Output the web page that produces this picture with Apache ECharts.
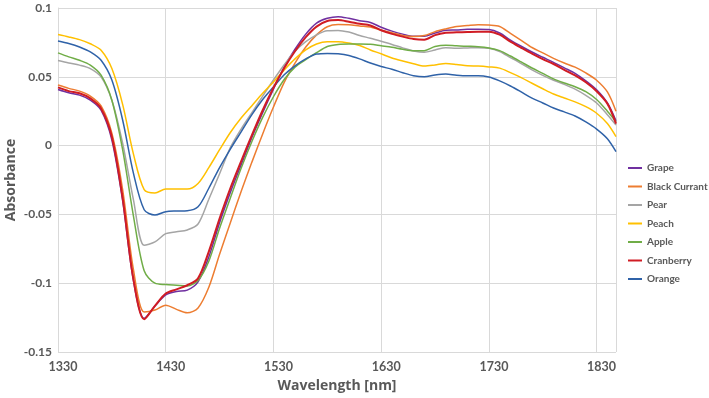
<!DOCTYPE html>
<html>
<head>
<meta charset="utf-8">
<script src="https://cdn.jsdelivr.net/npm/echarts@6/dist/echarts.min.js"></script>
<style>
    html, body { margin: 0; padding: 0; background: #fff; }
    #chart { width: 709px; height: 398px; }
</style>
</head>
<body>
<div id="chart"></div>
<script>
// wavelengths [nm], every 10 nm
var wavelengths = [1330, 1340, 1350, 1360, 1370, 1380, 1390, 1400, 1410, 1420, 1430,
    1440, 1450, 1460, 1470, 1480, 1490, 1500, 1510, 1520, 1530,
    1540, 1550, 1560, 1570, 1580, 1590, 1600, 1610, 1620, 1630,
    1640, 1650, 1660, 1670, 1680, 1690, 1700, 1710, 1720, 1730,
    1740, 1750, 1760, 1770, 1780, 1790, 1800, 1810, 1820, 1830,
    1840, 1848];

var grape = [0.0408, 0.0384, 0.0367, 0.0331, 0.0258, 0.0041, -0.0400, -0.0980, -0.1255, -0.1166, -0.1085,
    -0.1060, -0.1050, -0.0990, -0.0810, -0.0560, -0.0340, -0.0140, 0.0060, 0.0240, 0.0410,
    0.0570, 0.0700, 0.0810, 0.0890, 0.0925, 0.0937, 0.0925, 0.0908, 0.0895, 0.0860,
    0.0832, 0.0810, 0.0795, 0.0795, 0.0818, 0.0838, 0.0840, 0.0845, 0.0845, 0.0843,
    0.0818, 0.0767, 0.0722, 0.0680, 0.0642, 0.0605, 0.0565, 0.0525, 0.0470, 0.0405,
    0.0310, 0.0180];

var blackCurrant = [0.0440, 0.0416, 0.0396, 0.0360, 0.0288, 0.0090, -0.0320, -0.0900, -0.1210, -0.1195, -0.1160,
    -0.1190, -0.1215, -0.1180, -0.1030, -0.0790, -0.0560, -0.0334, -0.0120, 0.0085, 0.0280,
    0.0460, 0.0600, 0.0716, 0.0805, 0.0864, 0.0880, 0.0879, 0.0870, 0.0862, 0.0838,
    0.0820, 0.0800, 0.0793, 0.0800, 0.0828, 0.0848, 0.0865, 0.0872, 0.0878, 0.0876,
    0.0866, 0.0816, 0.0765, 0.0713, 0.0674, 0.0634, 0.0600, 0.0570, 0.0528, 0.0475,
    0.0390, 0.0250];

var pear = [0.0618, 0.0600, 0.0585, 0.0560, 0.0500, 0.0330, 0.0017, -0.0393, -0.0725, -0.0700, -0.0640,
    -0.0626, -0.0613, -0.0570, -0.0390, -0.0205, -0.0015, 0.0120, 0.0240, 0.0360, 0.0477,
    0.0588, 0.0686, 0.0755, 0.0805, 0.0835, 0.0837, 0.0825, 0.0800, 0.0780, 0.0758,
    0.0735, 0.0710, 0.0688, 0.0678, 0.0695, 0.0712, 0.0708, 0.0710, 0.0712, 0.0708,
    0.0684, 0.0640, 0.0596, 0.0550, 0.0510, 0.0475, 0.0445, 0.0410, 0.0365, 0.0310,
    0.0225, 0.0150];

var peach = [0.0807, 0.0790, 0.0770, 0.0740, 0.0693, 0.0560, 0.0300, -0.0060, -0.0320, -0.0345, -0.0315,
    -0.0316, -0.0316, -0.0275, -0.0160, -0.0030, 0.0095, 0.0200, 0.0290, 0.0380, 0.0463,
    0.0550, 0.0630, 0.0695, 0.0738, 0.0755, 0.0755, 0.0745, 0.0727, 0.0695, 0.0667,
    0.0637, 0.0615, 0.0595, 0.0578, 0.0586, 0.0597, 0.0590, 0.0580, 0.0578, 0.0572,
    0.0563, 0.0530, 0.0494, 0.0453, 0.0413, 0.0375, 0.0346, 0.0318, 0.0283, 0.0235,
    0.0160, 0.0065];

var apple = [0.0674, 0.0645, 0.0620, 0.0585, 0.0512, 0.0330, -0.0030, -0.0510, -0.0910, -0.1000, -0.1010,
    -0.1015, -0.1020, -0.0980, -0.0840, -0.0600, -0.0380, -0.0165, 0.0030, 0.0205, 0.0355,
    0.0480, 0.0570, 0.0625, 0.0675, 0.0720, 0.0735, 0.0738, 0.0738, 0.0736, 0.0725,
    0.0714, 0.0700, 0.0690, 0.0690, 0.0720, 0.0730, 0.0725, 0.0722, 0.0719, 0.0710,
    0.0690, 0.0651, 0.0608, 0.0564, 0.0525, 0.0485, 0.0455, 0.0428, 0.0392, 0.0335,
    0.0250, 0.0174];

var cranberry = [0.0423, 0.0396, 0.0380, 0.0343, 0.0270, 0.0065, -0.0380, -0.0970, -0.1262, -0.1165, -0.1075,
    -0.1045, -0.1015, -0.0965, -0.0770, -0.0530, -0.0310, -0.0114, 0.0076, 0.0257, 0.0420,
    0.0564, 0.0686, 0.0788, 0.0865, 0.0905, 0.0912, 0.0900, 0.0885, 0.0873, 0.0838,
    0.0812, 0.0792, 0.0775, 0.0770, 0.0803, 0.0820, 0.0823, 0.0826, 0.0828, 0.0828,
    0.0806, 0.0755, 0.0711, 0.0668, 0.0628, 0.0593, 0.0550, 0.0510, 0.0460, 0.0395,
    0.0305, 0.0160];

var orange = [0.0760, 0.0742, 0.0717, 0.0681, 0.0620, 0.0476, 0.0186, -0.0200, -0.0466, -0.0505, -0.0480,
    -0.0475, -0.0473, -0.0445, -0.0310, -0.0160, -0.0025, 0.0100, 0.0225, 0.0335, 0.0426,
    0.0515, 0.0580, 0.0630, 0.0665, 0.0670, 0.0667, 0.0655, 0.0630, 0.0600, 0.0575,
    0.0555, 0.0530, 0.0508, 0.0500, 0.0513, 0.0520, 0.0512, 0.0508, 0.0508, 0.0498,
    0.0470, 0.0433, 0.0390, 0.0345, 0.0310, 0.0273, 0.0245, 0.0215, 0.0172, 0.0120,
    0.0050, -0.0044];

var seriesNames = ['Grape', 'Black Currant', 'Pear', 'Peach', 'Apple', 'Cranberry', 'Orange'];
var seriesValues = [grape, blackCurrant, pear, peach, apple, cranberry, orange];
var seriesColors = ['#7030A0', '#ED7D31', '#A5A5A5', '#FFC000', '#70AD47', '#D01C24', '#2F62A8'];

var textColor = '#595959',
    lineColor = '#D9D9D9',
    font = 'Lato, "Open Sans", sans-serif',
    nameFont = '"Open Sans", "Noto Sans", sans-serif';

function buildSeries() {
    var out = [];
    for (var s = 0; s < seriesNames.length; s++) {
        var pts = [];
        for (var i = 0; i < wavelengths.length; i++)
            pts.push([wavelengths[i], seriesValues[s][i]]);
        out.push({
            name: seriesNames[s],
            type: 'line',
            data: pts,
            symbol: 'none',
            smooth: 0.3,
            lineStyle: { width: seriesNames[s] == 'Cranberry' ? 2 : 1.5, color: seriesColors[s] },
            itemStyle: { color: seriesColors[s] },
            z: seriesNames[s] == 'Cranberry' ? 3 : 2
        });
    }
    return out;
}

var chart = echarts.init(document.getElementById('chart'), null, { renderer: 'canvas' });
chart.setOption({
    animation: false,
    backgroundColor: '#fff',
    textStyle: { fontFamily: font },
    grid: { left: 58, right: 93, top: 8, bottom: 46, containLabel: false, outerBoundsMode: 'none' },
    legend: {
        orient: 'vertical',
        left: 628,
        top: 161,
        padding: 0,
        icon: 'rect',
        itemWidth: 14,
        itemHeight: 2,
        itemGap: 4.5,
        itemTextGap: 2,
        data: seriesNames,
        textStyle: { color: textColor, fontSize: 10, fontWeight: 'bold', fontFamily: font, lineHeight: 14 }
    },
    xAxis: {
        type: 'value',
        min: 1330,
        max: 1848,
        interval: 100,
        name: 'Wavelength [nm]',
        nameLocation: 'middle',
        nameGap: 27,
        nameMoveOverlap: false,
        nameTextStyle: { color: textColor, fontSize: 14, fontWeight: 'bold', fontFamily: nameFont },
        axisLine: { show: true, lineStyle: { color: lineColor } },
        axisTick: { show: false },
        splitLine: { show: true, lineStyle: { color: lineColor } },
        axisLabel: {
            color: textColor, fontSize: 12.5, fontWeight: 'bold', fontFamily: font,
            margin: 8, showMaxLabel: false, padding: [0, 0, 0, 10],
            formatter: function(v) { return String(v); }
        }
    },
    yAxis: {
        type: 'value',
        min: -0.15,
        max: 0.1,
        interval: 0.05,
        name: 'Absorbance',
        nameLocation: 'middle',
        nameGap: 40,
        nameMoveOverlap: false,
        nameTextStyle: { color: textColor, fontSize: 14, fontWeight: 'bold', fontFamily: nameFont },
        axisLine: { show: true, lineStyle: { color: lineColor } },
        axisTick: { show: false },
        splitLine: { show: true, lineStyle: { color: lineColor } },
        axisLabel: {
            color: textColor, fontSize: 12, fontWeight: 'bold', fontFamily: font, margin: 6,
            formatter: function(v) { return String(Number(v.toFixed(2))); }
        }
    },
    series: buildSeries()
});
</script>
</body>
</html>
